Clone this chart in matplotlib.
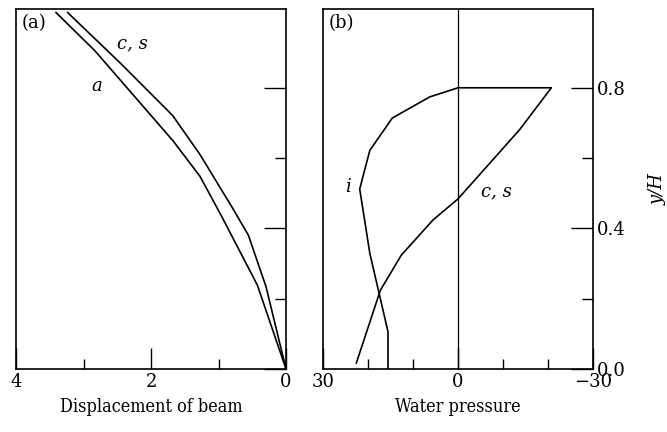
import matplotlib
matplotlib.use("Agg")
import matplotlib.pyplot as plt
from matplotlib.ticker import MultipleLocator, FixedLocator

plt.rcParams['font.family'] = ['DejaVu Serif']
plt.rcParams['font.size'] = 13

# (a) beam displacement vs y/H
disp_cs = [0.0, 0.296, 0.558, 0.805, 1.274, 1.679, 2.459, 3.235]
y_disp_cs = [0.0, 0.234, 0.381, 0.462, 0.610, 0.721, 0.871, 1.014]
disp_a = [0.0, 0.425, 0.953, 1.274, 1.669, 2.830, 3.407]
y_disp_a = [0.0, 0.239, 0.434, 0.548, 0.648, 0.905, 1.014]

# (b) water pressure vs y/H
pres_cs = [22.6, 17.26, 12.6, 5.56, 0.0, -13.7, -20.74, 0.0]
y_pres_cs = [0.017, 0.224, 0.324, 0.424, 0.484, 0.681, 0.80, 0.80]
pres_i = [0.0, 6.3, 14.6, 19.6, 21.85, 19.6, 15.56, 15.56]
y_pres_i = [0.80, 0.774, 0.714, 0.622, 0.512, 0.329, 0.106, 0.0]

fig = plt.figure(figsize=(6.67, 4.32), dpi=100)
ax1 = fig.add_axes([0.024, 0.1458, 0.4048, 0.8333])
ax2 = fig.add_axes([0.4843, 0.1458, 0.4048, 0.8333])

lw = 1.2
for ax in (ax1, ax2):
    for s in ax.spines.values():
        s.set_linewidth(1.2)
    ax.set_ylim(0, 1.024)
    ax.yaxis.set_major_locator(FixedLocator([0.0, 0.4, 0.8]))
    ax.yaxis.set_minor_locator(FixedLocator([0.2, 0.6]))
    ax.yaxis.tick_right()
    ax.tick_params(axis='y', which='both', direction='in', left=False, right=True, width=1.0)
    ax.tick_params(axis='y', which='major', length=16)
    ax.tick_params(axis='y', which='minor', length=8)
    ax.tick_params(axis='x', which='both', direction='in', top=False, width=1.0, pad=3)
    ax.tick_params(axis='x', which='major', length=15)
    ax.tick_params(axis='x', which='minor', length=7)

label_font = dict(size=13, stretch='condensed')

# panel a
ax1.plot(disp_cs, y_disp_cs, color='black', lw=lw)
ax1.plot(disp_a, y_disp_a, color='black', lw=lw)
ax1.set_xlim(4, 0)
ax1.xaxis.set_major_locator(MultipleLocator(2))
ax1.xaxis.set_minor_locator(MultipleLocator(1))
ax1.tick_params(axis='y', labelright=False)
ax1.set_xlabel('Displacement of beam', labelpad=5, **label_font)
ax1.text(2.28, 0.927, 'c, s', style='italic', ha='center', va='center')
ax1.text(2.8, 0.805, 'a', style='italic', ha='center', va='center')
ax1.text(0.02, 0.985, '(a)', transform=ax1.transAxes, ha='left', va='top')

# panel b
ax2.plot(pres_cs, y_pres_cs, color='black', lw=lw)
ax2.plot(pres_i, y_pres_i, color='black', lw=lw)
ax2.axvline(0, color='black', lw=0.9)
ax2.set_xlim(30, -30)
ax2.set_xticks([30, 0, -30])
ax2.set_xticklabels(['30', '0', '\u221230'])
ax2.xaxis.set_minor_locator(MultipleLocator(10))
ax2.set_yticklabels(['0.0', '0.4', '0.8'])
ax2.tick_params(axis='y', labelright=True, pad=3)
ax2.set_xlabel('Water pressure', labelpad=5, **label_font)
ax2.yaxis.set_label_position('right')
ax2.set_ylabel('y/H', style='italic', rotation=90, labelpad=16)
ax2.text(24.4, 0.519, 'i', style='italic', ha='center', va='center')
ax2.text(-8.5, 0.505, 'c, s', style='italic', ha='center', va='center')
ax2.text(0.02, 0.985, '(b)', transform=ax2.transAxes, ha='left', va='top')

fig.savefig('out.png', dpi=100)
